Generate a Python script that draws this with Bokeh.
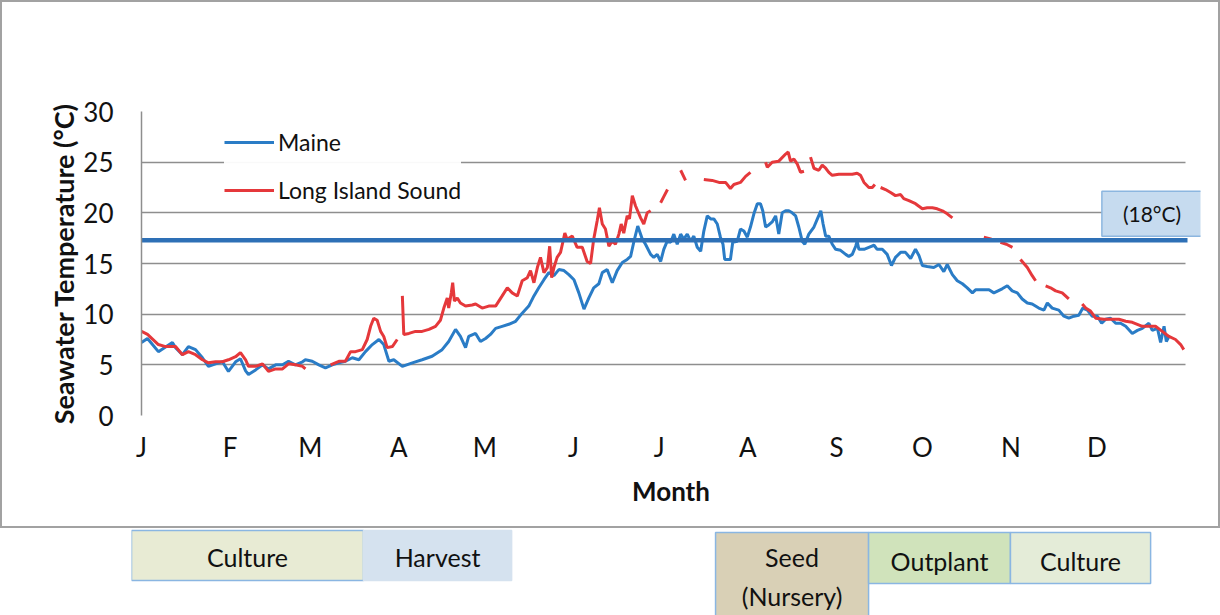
from bokeh.plotting import figure
from bokeh.models import Range1d, FixedTicker, Label
from bokeh.layouts import column
from bokeh.embed import file_html
from bokeh.resources import INLINE
from bokeh.core.properties import value

nan = float("nan")

# ---------------- data (day of year, Jan 1 = 0) ----------------
maine_day = [0, 2.1, 5.9, 10.8, 11.9, 14.3, 16.4, 18.9, 21.3, 23.4, 25.9, 28.3, 30.4, 32.9, 34.6, 36.4, 37.4,
             39.9, 42.3, 44.4, 46.9, 49.3, 51.4, 53.8, 56.3,
             57.3, 59.7, 62.0, 64.3, 66.7, 69.0, 71.3, 73.7, 76.0, 78.3, 80.7, 83.0, 84.7, 86.5, 88.2, 91.2,
             94.7, 98.1, 101.6, 105.1, 107.4, 109.8, 111.5, 113.3, 114.4, 116.8, 118.5, 120.3, 122.0,
             123.8, 126.1, 128.4, 130.8, 133.1, 135.4, 137.2, 138.9, 140.7, 142.4, 144.2, 145.9, 147.7, 149.4,
             151.2, 152.9, 154.7, 156.4, 158.1, 159.9, 161.1, 162.8, 164.6, 166.3, 168.1, 169.8, 171.0, 172.1,
             173.5, 175.1,
             176.2, 178.0, 179.1, 180.3, 181.5, 182.6, 183.8, 185.0, 186.1, 187.3, 188.5, 189.6, 190.8, 192.0,
             193.1, 194.3, 195.5, 196.6, 197.8, 199.0, 200.1, 201.3, 202.4, 203.3, 203.9, 205.9, 206.7, 208.3,
             209.4, 210.6, 211.8, 212.9, 214.1, 215.3, 216.4, 217.2, 218.2, 219.3, 220.5, 221.7, 222.8, 224.0,
             225.2, 226.3, 227.5, 228.7, 229.8, 231.0, 231.9, 233.3, 235.1, 236.3, 237.5, 238.3,
             239.2, 240.3, 241.5, 242.7, 244.4, 246.2, 247.3, 248.5, 249.7, 250.2, 250.8, 252.6, 254.3, 256.1,
             257.2, 259.0, 260.7, 262.2, 263.6, 265.4, 267.1, 268.9, 270.6, 271.8, 273.0, 274.7, 277.0, 278.8,
             280.5, 281.7, 283.5, 285.2, 287.0, 288.7, 290.5, 291.6, 294.0, 296.3, 298.0,
             300.9, 302.7, 304.4, 306.2, 307.9, 309.7, 311.4, 313.7, 315.5, 316.7, 318.4, 320.7, 322.5, 324.2,
             326.0, 327.7, 329.1, 330.7, 332.4, 334.2, 335.7, 337.1, 338.8, 340.6, 342.3, 344.1, 346.4, 348.2,
             349.9, 352.2, 353.4, 355.2, 356.3, 357.5, 358.3, 359.2]
maine_temp = [7.2, 7.6, 6.3, 7.2, 6.7, 6.0, 6.8, 6.5, 5.7, 4.85, 5.1, 5.3, 4.35, 5.3, 5.6, 4.4, 4.05, 4.5,
              5.0, 4.6, 5.0, 5.0, 5.35, 5.0, 5.3,
              5.5, 5.35, 5.0, 4.7, 5.0, 5.2, 5.35, 5.7, 5.5, 6.3, 7.0, 7.5, 7.0, 5.35, 5.5, 4.85, 5.2, 5.5,
              5.85, 6.5, 7.3, 8.5, 7.8, 6.7, 7.8, 8.1, 7.3, 7.6, 8.0,
              8.6, 8.8, 9.0, 9.3, 10.1, 10.8, 11.8, 12.6, 13.4, 14.1, 13.8, 14.4, 14.3, 13.9, 13.4, 12.1, 10.5,
              11.6, 12.6, 13.0, 14.1, 14.4, 13.1, 14.3, 15.1, 15.4, 15.7, 17.1, 18.7, 17.4,
              16.9, 15.9, 15.6, 15.9, 15.2, 16.4, 17.2, 17.1, 17.9, 16.9, 17.9, 17.4, 17.9, 17.2, 17.7, 16.6,
              16.2, 18.2, 19.7, 19.4, 19.4, 18.9, 17.6, 16.9, 15.4, 15.4, 17.1, 17.2, 18.4, 18.2, 17.6, 18.6,
              19.9, 20.9, 20.9, 20.2, 18.6, 18.8, 19.1, 19.7, 17.9, 20.0, 20.2, 20.2, 20.0, 19.7, 18.6, 17.2,
              16.9, 17.9, 18.6, 19.4, 20.2, 18.9,
              17.7, 17.7, 16.9, 16.4, 16.3, 15.9, 15.7, 15.9, 16.7, 17.2, 16.4, 16.4, 16.6, 16.8, 16.4, 16.4,
              15.9, 14.8, 15.6, 16.1, 16.1, 15.5, 16.4, 15.8, 14.8, 14.7, 14.6, 14.9, 14.2, 14.9, 13.9, 13.3,
              13.0, 12.6, 12.1, 12.4, 12.4, 12.4, 12.1,
              12.5, 12.8, 12.3, 12.1, 11.5, 11.1, 11.0, 10.6, 10.4, 11.1, 10.6, 10.4, 9.8, 9.6, 9.8, 9.9, 10.6,
              10.4, 9.8, 9.8, 9.1, 9.5, 9.6, 9.1, 9.1, 8.8, 8.1, 8.4, 8.6, 9.1, 8.4, 8.6, 7.2, 8.8, 7.3, 7.8]

# Long Island Sound (gaps in the record are nan)
lis_day = [0, 2.1, 5.9, 8.4, 11.9, 14.3, 16.4, 18.9, 21.3, 23.4, 25.9, 28.3, 30.4, 32.9, 34.6, 36.4, 37.4,
           39.9, 42.3, 44.4, 46.9, 49.3, 51.4, 53.8, 56.3, 57.3,
           62.0,
           66.1, 69.0, 71.3, 73.1, 74.8, 77.2, 78.9, 80.1, 81.2, 82.4, 83.6, 84.7, 85.9, 87.7, 89.4,
           90.3,
           91.2, 91.7, 93.5, 95.8, 98.1, 100.5, 102.8, 104.5, 105.7, 106.9, 107.4, 108.3, 108.8, 109.4, 110.4,
           111.5, 113.3, 115.6, 116.8, 119.1, 121.4, 123.8, 126.1, 127.9, 129.6, 131.4, 133.1, 134.9, 136.0,
           137.2, 138.4, 139.5, 140.7, 141.9, 142.7, 143.4, 144.2, 145.3, 146.5, 147.3, 148.0, 148.8, 150.6,
           152.3, 154.1, 155.8, 157.0, 158.1, 159.3, 160.1, 161.1, 162.2, 163.4, 164.6, 165.7, 166.9, 167.7,
           168.6, 169.8, 170.6, 171.6, 172.7, 174.5, 175.6, 176.8, 178.0,
           179.5,
           181.5, 182.6, 183.9,
           186.0,
           188.5, 190.2,
           193.0,
           196.6, 199.5, 201.9, 204.2, 205.9, 207.1, 209.4, 211.2, 212.9,
           215.5,
           218.2, 218.8, 220.5, 222.8, 225.2, 226.1, 226.9, 228.1, 229.3, 230.4, 231.6,
           232.7,
           233.9, 235.1, 236.8, 238.0, 239.2, 240.3, 241.5, 243.8, 246.2, 248.5, 250.2, 251.4, 252.6, 254.3,
           255.5, 256.4,
           257.4,
           258.4, 260.1, 261.9, 263.6, 265.4, 266.5, 268.3, 270.6, 273.0, 274.7, 276.5, 278.2, 280.0, 281.7,
           283.5,
           289.0,
           294.5, 297.2,
           298.8,
           300.3, 302.4, 304.5,
           306.0,
           307.3, 309.7, 311.4, 312.6,
           314.5,
           316.1, 317.8, 319.6, 321.9, 324.2,
           326.5,
           328.9, 330.1, 331.8, 333.6, 336.4, 339.3, 341.7, 344.1, 346.4, 349.9, 352.2, 354.5, 356.9, 359.2,
           361.5, 363.3, 364.4]
lis_temp = [8.3, 8.0, 7.0, 6.8, 6.8, 6.0, 6.3, 6.0, 5.5, 5.2, 5.3, 5.3, 5.5, 5.8, 6.2, 5.5, 4.85, 4.85,
            5.1, 4.35, 4.6, 4.6, 5.1, 5.0, 4.85, 4.6,
            nan,
            5.0, 5.35, 5.35, 6.3, 6.3, 6.5, 7.5, 8.8, 9.6, 9.4, 8.3, 7.8, 6.7, 6.8, 7.5,
            nan,
            11.8, 8.0, 8.1, 8.3, 8.3, 8.5, 8.8, 9.4, 10.6, 11.6, 10.6, 12.1, 13.1, 11.3, 11.6, 11.1, 10.8,
            10.9, 11.0, 10.6, 10.8, 10.8, 11.8, 12.6, 12.1, 11.8, 13.3, 13.6, 14.3, 13.1, 14.6, 15.6, 14.1,
            14.6, 16.7, 13.6, 14.6, 15.6, 16.1, 17.1, 18.0, 17.4, 17.7, 16.6, 16.6, 15.2, 15.0, 17.4, 19.2,
            20.5, 18.9, 18.4, 16.7, 17.2, 16.9, 17.9, 18.9, 18.0, 19.7, 19.4, 21.7, 20.7, 19.5, 18.9, 20.0, 20.2,
            nan,
            21.0, 21.6, 22.3,
            nan,
            24.2, 23.2,
            nan,
            23.3, 23.2, 23.0, 23.0, 22.4, 22.8, 23.0, 23.6, 24.0,
            nan,
            25.0, 24.5, 25.0, 25.1, 25.8, 26.0, 25.1, 25.3, 24.8, 24.0, 24.1,
            nan,
            25.5, 24.4, 24.2, 24.7, 24.4, 24.0, 23.7, 23.8, 23.8, 23.8, 23.9, 23.7, 23.0, 22.5, 22.5, 22.8,
            nan,
            22.5, 22.3, 22.0, 21.7, 21.8, 21.4, 21.2, 20.9, 20.4, 20.5, 20.5, 20.4, 20.2, 19.9, 19.5,
            nan,
            17.6, 17.4,
            nan,
            17.1, 16.9, 16.6,
            nan,
            15.4, 14.6, 13.8, 13.3,
            nan,
            12.8, 12.6, 12.3, 12.1, 11.5,
            nan,
            11.0, 10.6, 10.3, 9.6, 9.5, 9.5, 9.5, 9.3, 9.2, 8.8, 8.8, 8.8, 8.3, 7.8, 7.5, 7.0, 6.5]

month_days = [0, 31, 59, 90, 120, 151, 181, 212, 243, 273, 304, 334]
month_labels = ["J", "F", "M", "A", "M", "J", "J", "A", "S", "O", "N", "D"]
y_ticks = [0, 5, 10, 15, 20, 25, 30]

threshold_temp = 17.3
threshold_text = "(18°C)"

stage_names = ["Culture", "Harvest", "Seed\n(Nursery)", "Outplant", "Culture"]
stage_start = [-3.5, 77.6, 200.7, 254.2, 303.8]
stage_end = [77.6, 129.4, 254.2, 303.8, 352.8]

# ---------------- styling ----------------
FONT = "Lato"
BLUE = "#2a7cc6"
RED = "#e5383b"
GRID = "#8e8e8e"
INK = "#111111"

BW = 2                      # outer chart border width
W = 1220
H1 = 528 - 2 * BW
W1 = W - 2 * BW
H2 = 87
days_span = 365.0
px_per_day = 1044 / days_span

# Let the frame run a little past Dec 31 (room for the 18 °C tag) when the
# grid can be limited to the year; otherwise keep the frame at the year.
probe = figure()
grid_can_limit = "cross_bounds" in probe.ygrid[0].properties()
extra_px = 15 if grid_can_limit else 0
x_end = days_span + extra_px / px_per_day

BL, BR, BT, BB = 141 - BW, 35 - BW - extra_px, 111 - BW, 113 - BW

p = figure(width=W1, height=H1, x_range=Range1d(0, x_end), y_range=Range1d(0, 30),
           output_backend="svg", toolbar_location=None,
           min_border_left=BL, min_border_right=BR, min_border_top=BT, min_border_bottom=BB)
p.outline_line_color = None
p.background_fill_color = "white"
p.border_fill_color = "white"

p.xgrid.visible = False
p.ygrid.ticker = FixedTicker(ticks=y_ticks)
p.ygrid.grid_line_color = GRID
p.ygrid.grid_line_width = 1.5
if grid_can_limit:
    p.ygrid[0].cross_bounds = (0, days_span)

yax = p.yaxis[0]
yax.ticker = FixedTicker(ticks=y_ticks)
yax.major_tick_line_color = None
yax.minor_tick_line_color = None
yax.axis_line_color = GRID
yax.axis_line_width = 1.5
yax.major_label_text_font = FONT
yax.major_label_text_font_size = "26px"
yax.major_label_text_color = INK
yax.major_label_standoff = 22
yax.axis_label = "Seawater Temperature (°C)"
yax.axis_label_text_font = FONT
yax.axis_label_text_font_style = "bold"
yax.axis_label_text_font_size = "27px"
yax.axis_label_text_color = INK
yax.axis_label_standoff = 0

xax = p.xaxis[0]
xax.ticker = FixedTicker(ticks=month_days)
xax.major_label_overrides = {d: lab for d, lab in zip(month_days, month_labels)}
xax.major_tick_line_color = None
xax.minor_tick_line_color = None
xax.axis_line_color = None
xax.major_label_text_font = FONT
xax.major_label_text_font_size = "26px"
xax.major_label_text_color = INK
xax.major_label_standoff = 9
xax.axis_label = "Month"
xax.axis_label_text_font = FONT
xax.axis_label_text_font_style = "bold"
xax.axis_label_text_font_size = "26px"
xax.axis_label_text_color = INK
xax.axis_label_standoff = 9

p.line(maine_day, maine_temp, line_color=BLUE, line_width=3, legend_label="Maine")
p.line(lis_day, lis_temp, line_color=RED, line_width=3, legend_label="Long Island Sound")

# 18 °C threshold line across the year
p.line([0, days_span + 0.7], [threshold_temp, threshold_temp], line_color="#2e70b6", line_width=4.5)

lab = Label(x=353.3, y=19.9, text=threshold_text, text_align="center", text_baseline="middle",
            text_font=FONT, text_font_size="21px", text_color=INK,
            background_fill_color="#c6dbef", border_line_color="#8cb6df", border_line_width=1.5,
            padding=(21, 10))
p.add_layout(lab)

leg = p.legend[0]
leg.location = (83, 211)
leg.label_text_font = FONT
leg.label_text_font_size = "23px"
leg.label_text_color = INK
leg.glyph_width = 50
leg.glyph_height = 20
leg.label_height = 20
leg.label_standoff = 4
leg.spacing = 20
leg.padding = 15
leg.margin = 0
leg.border_line_color = None
leg.background_fill_color = "white"
leg.background_fill_alpha = 0.95

chart_box = column(p, styles={"border": f"{BW}px solid #a2a2a2"})

# ---------------- stage boxes below the chart ----------------
q_left = 131
q = figure(width=W, height=H2, x_range=Range1d(-(141 - q_left) / px_per_day, days_span),
           y_range=Range1d(H2, 0), output_backend="svg", toolbar_location=None,
           x_axis_type=None, y_axis_type=None,
           min_border_left=q_left, min_border_right=35, min_border_top=0, min_border_bottom=0)
q.grid.visible = False
q.outline_line_color = None
q.background_fill_color = "white"
q.border_fill_color = "white"

stage_top = [2, 2, 4, 4, 4]
stage_bottom = [52, 52, 110, 55, 55]
stage_fill = ["#e8ebd4", "#d5e2ef", "#d9d0b6", "#d0e3bb", "#e4ecd8"]
stage_line = ["#8ab6e2", "#d5e2ef", "#8ab6e2", "#8ab6e2", "#8ab6e2"]
stage_text_y = [28, 28, 48, 32, 32]

q.quad(left=stage_start, right=stage_end, top=stage_top, bottom=stage_bottom,
       fill_color=stage_fill, line_color=stage_line, line_width=1.5)
q.text(x=[(a + b) / 2 for a, b in zip(stage_start, stage_end)], y=stage_text_y, text=stage_names,
       text_align="center", text_baseline="middle", text_font=value(FONT), text_font_size="25px",
       text_color=INK, text_line_height=1.28)

layout = column(chart_box, q, spacing=0)
open("out.html", "w").write(file_html(layout, INLINE))
